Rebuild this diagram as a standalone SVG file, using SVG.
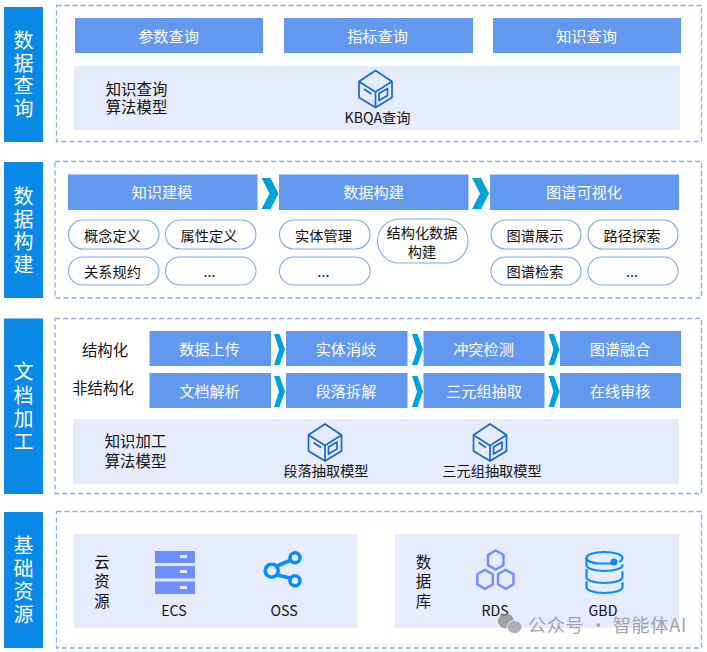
<svg xmlns="http://www.w3.org/2000/svg" width="707" height="652" viewBox="0 0 707 652">
<style>
text{font-family:"Noto Sans CJK SC","Microsoft YaHei",sans-serif;text-anchor:middle;dominant-baseline:central}
.side{fill:#0a8ae6}
.sidet{fill:#fff;font-size:20px}
.dash{fill:#fff;stroke:#86aef0;stroke-width:1.3;stroke-dasharray:5 3}
.btn{fill:#6299ef}
.btnt{fill:#fff;font-size:15.2px}
.panel{fill:#e6ebfd}
.lab{fill:#111;font-size:15.4px}
.small{fill:#111;font-size:14.2px}
.pill{fill:#fff;stroke:#7ea8f0;stroke-width:1.1}
.chev{fill:#00a3d9}
.ln{fill:none;stroke:#1469cc;stroke-width:1.7;stroke-linejoin:round}
.hex{fill:none;stroke:#6f8fff;stroke-width:2.4}
.oss{fill:none;stroke:#0a8cf5;stroke-width:3.6}
.gbd{fill:none;stroke:#0a8cf5;stroke-width:2.2;stroke-linecap:round}
</style>
<defs>
<symbol id="cube" viewBox="0 0 34 38" overflow="visible">
<path class="ln" d="M17 0.5L33.5 11.500V27.500L17 37.500L0.5 27.500V11.500Z"/>
<path class="ln" d="M0.5 11.500L17 22L33.500 11.500M17 22V37.500"/>
<path class="ln" d="M5.500 19L13 24"/>
<path class="ln" d="M20.500 23.500L29 18.500V25.500L20.500 30.500Z"/>
</symbol>
<path id="chevL" class="chev" d="M0 0H9L17 15.500L9 31H0L8 15.500Z"/>
<path id="chevS" class="chev" d="M0 0H5.500L11 15.500L5.500 31H0L5 15.500Z"/>
</defs>

<g id="layer-query">
<rect class="side" x="4" y="7" width="39" height="135"/>
<text class="sidet"><tspan x="23.500" y="38.500">数</tspan><tspan x="23.500" y="61.500">据</tspan><tspan x="23.500" y="84">查</tspan><tspan x="23.500" y="106.500">询</tspan></text>
<rect class="dash" x="56.500" y="5.500" width="645" height="136"/>
</g>
<g id="btn-param"><rect class="btn" x="75" y="18" width="188" height="35"/><text class="btnt" x="168.500" y="34.500">参数查询</text></g>
<g id="btn-metric"><rect class="btn" x="284" y="18" width="189" height="35"/><text class="btnt" x="377.500" y="34.500">指标查询</text></g>
<g id="btn-knowledge"><rect class="btn" x="493" y="18" width="188" height="35"/><text class="btnt" x="586.500" y="34.500">知识查询</text></g>
<g id="panel-kbqa">
<rect class="panel" x="74" y="66" width="606" height="64"/>
<text class="lab" x="136.500" y="87.500">知识查询</text>
<text class="lab" x="136.500" y="105.500">算法模型</text>
<use href="#cube" x="358.500" y="70" width="34" height="38"/>
<text class="small" x="377.500" y="117">KBQA查询</text>
</g>

<g id="layer-build">
<rect class="side" x="4" y="162" width="39" height="136"/>
<text class="sidet"><tspan x="23.500" y="195">数</tspan><tspan x="23.500" y="218">据</tspan><tspan x="23.500" y="240">构</tspan><tspan x="23.500" y="263">建</tspan></text>
<rect class="dash" x="55" y="161.500" width="646.500" height="136.500"/>
</g>
<g id="head-model"><rect class="btn" x="68" y="174.500" width="189.500" height="35.500"/><text class="btnt" x="162" y="191">知识建模</text></g>
<g id="head-data"><rect class="btn" x="279" y="174.500" width="189.500" height="35.500"/><text class="btnt" x="373.500" y="191">数据构建</text></g>
<g id="head-vis"><rect class="btn" x="490" y="174.500" width="189" height="35.500"/><text class="btnt" x="584" y="191">图谱可视化</text></g>
<g id="p1"><rect class="pill" x="68.500" y="220" width="90.500" height="29" rx="14.500"/><text class="small" x="112.500" y="235">概念定义</text></g>
<g id="p2"><rect class="pill" x="165.500" y="220" width="90.500" height="29" rx="14.500"/><text class="small" x="209" y="235">属性定义</text></g>
<g id="p3"><rect class="pill" x="68.500" y="257" width="90.500" height="28" rx="14"/><text class="small" x="112.500" y="271">关系规约</text></g>
<g id="p4"><rect class="pill" x="165.500" y="257" width="90.500" height="28" rx="14"/><text class="small" x="209.500" y="271">...</text></g>
<g id="p5"><rect class="pill" x="279.500" y="220" width="90.500" height="29" rx="14.500"/><text class="small" x="323.500" y="235">实体管理</text></g>
<g id="p6"><rect class="pill" x="377.500" y="219" width="90.500" height="44" rx="22"/><text class="small" x="422" y="231.500">结构化数据</text><text class="small" x="422" y="250.500">构建</text></g>
<g id="p7"><rect class="pill" x="279.500" y="257" width="90.500" height="28" rx="14"/><text class="small" x="323.500" y="271">...</text></g>
<g id="p8"><rect class="pill" x="491" y="220" width="90" height="29" rx="14.500"/><text class="small" x="535" y="235">图谱展示</text></g>
<g id="p9"><rect class="pill" x="588" y="220" width="90" height="29" rx="14.500"/><text class="small" x="632" y="235">路径探索</text></g>
<g id="p10"><rect class="pill" x="491" y="257" width="90" height="28" rx="14"/><text class="small" x="535" y="271">图谱检索</text></g>
<g id="p11"><rect class="pill" x="588" y="257" width="90" height="28" rx="14"/><text class="small" x="632" y="271">...</text></g>

<g id="layer-doc">
<rect class="side" x="4" y="318.500" width="39" height="175.500"/>
<text class="sidet"><tspan x="23.500" y="369.500">文</tspan><tspan x="23.500" y="393.500">档</tspan><tspan x="23.500" y="417">加</tspan><tspan x="23.500" y="440">工</tspan></text>
<rect class="dash" x="55" y="318.500" width="646.500" height="175"/>
</g>
<g id="label-struct"><text class="lab" x="105" y="349">结构化</text></g>
<g id="label-unstruct"><text class="lab" x="103" y="387">非结构化</text></g>
<g id="s1"><rect class="btn" x="149.500" y="331" width="121.500" height="35"/><text class="btnt" x="209.500" y="347.500">数据上传</text></g>
<g id="s2"><rect class="btn" x="286" y="331" width="121.500" height="35"/><text class="btnt" x="346" y="347.500">实体消歧</text></g>
<g id="s3"><rect class="btn" x="423.500" y="331" width="121" height="35"/><text class="btnt" x="483.500" y="347.500">冲突检测</text></g>
<g id="s4"><rect class="btn" x="560" y="331" width="121" height="35"/><text class="btnt" x="620" y="347.500">图谱融合</text></g>
<g id="u1"><rect class="btn" x="149.500" y="373" width="121.500" height="35"/><text class="btnt" x="209.500" y="389.500">文档解析</text></g>
<g id="u2"><rect class="btn" x="286" y="373" width="121.500" height="35"/><text class="btnt" x="346" y="389.500">段落拆解</text></g>
<g id="u3"><rect class="btn" x="423.500" y="373" width="121" height="35"/><text class="btnt" x="484" y="389.500">三元组抽取</text></g>
<g id="u4"><rect class="btn" x="560" y="373" width="121" height="35"/><text class="btnt" x="620" y="389.500">在线审核</text></g>
<g id="panel-doc-model">
<rect class="panel" x="73" y="419" width="606" height="65"/>
<text class="lab" x="135.500" y="440">知识加工</text>
<text class="lab" x="135.500" y="460">算法模型</text>
<use href="#cube" x="308" y="423.500" width="34" height="38"/>
<use href="#cube" x="473" y="423.500" width="34" height="38"/>
<text class="small" x="326" y="470">段落抽取模型</text>
<text class="small" x="492" y="470">三元组抽取模型</text>
</g>

<g id="layer-base">
<rect class="side" x="4" y="512" width="39" height="136"/>
<text class="sidet"><tspan x="23.500" y="543.500">基</tspan><tspan x="23.500" y="567">础</tspan><tspan x="23.500" y="590">资</tspan><tspan x="23.500" y="613">源</tspan></text>
<rect class="dash" x="56.500" y="511.500" width="645" height="136.500"/>
</g>
<g id="panel-cloud">
<rect class="panel" x="73.500" y="534" width="284" height="94"/>
<text class="lab"><tspan x="102" y="561">云</tspan><tspan x="102" y="580">资</tspan><tspan x="102" y="599.500">源</tspan></text>
</g>
<g id="node-ecs">
<g fill="#6f8fff"><rect x="155" y="551" width="40" height="12"/><rect x="155" y="566" width="40" height="12.500"/><rect x="155" y="581.500" width="40" height="12.500"/></g>
<g fill="#e6ebfd"><rect x="180" y="555" width="7" height="3"/><rect x="180" y="570" width="7" height="3"/><rect x="180" y="586" width="7" height="3"/></g>
<text class="small" x="174" y="610">ECS</text>
</g>
<g id="node-oss">
<path class="oss" d="M277 566L290 560.500M277 575L290 578"/>
<circle class="oss" cx="271.700" cy="570.700" r="6.500"/>
<circle class="oss" cx="295" cy="557.700" r="5"/>
<circle class="oss" cx="295" cy="580.700" r="5"/>
<text class="small" x="284" y="610">OSS</text>
</g>
<g id="panel-db">
<rect class="panel" x="395" y="534" width="284" height="94"/>
<text class="lab"><tspan x="423.500" y="561">数</tspan><tspan x="423.500" y="580">据</tspan><tspan x="423.500" y="600">库</tspan></text>
</g>
<g id="node-rds">
<path class="hex" d="M495.700 550.500L503.500 555V565L495.700 569.500L488 565V555Z"/>
<path class="hex" d="M485 569.800L492.800 574.300V584.300L485 588.800L477.300 584.300V574.300Z"/>
<path class="hex" d="M505.700 569.800L513.500 574.300V584.300L505.700 588.800L498 584.300V574.300Z"/>
<text class="small" x="495" y="610">RDS</text>
</g>
<g id="node-gbd">
<path class="gbd" d="M611 563.500H600C592 563.500 586.500 561 586.500 558C586.500 554.500 594 552 604.500 552C615 552 622.500 554.500 622.500 558C622.500 559.500 621.500 560.500 620 561.500"/>
<path class="gbd" d="M586.500 558V565C586.500 568.500 594 571 604.500 571C615 571 622.500 568.500 622.500 565"/>
<path class="gbd" d="M586.500 570V577C586.500 580.500 594 583 604.500 583C615 583 622.500 580.500 622.500 577V572"/>
<path class="gbd" d="M586.500 582V587C586.500 590.500 594 593 604.500 593C615 593 622.500 590.500 622.500 587V583"/>
<circle cx="614" cy="562" r="3.600" fill="#0a8cf5"/>
<text class="small" x="603" y="610">GBD</text>
</g>

<g id="connectors">
<use href="#chevL" x="261.500" y="178"/>
<use href="#chevL" x="472" y="178"/>
<use href="#chevS" x="274" y="334"/>
<use href="#chevS" x="412" y="334"/>
<use href="#chevS" x="548.500" y="334"/>
<use href="#chevS" x="274" y="376"/>
<use href="#chevS" x="412" y="376"/>
<use href="#chevS" x="548.500" y="376"/>
</g>

<g id="watermark" opacity="0.8">
<ellipse cx="506" cy="621" rx="8" ry="7.500" fill="#8f8f8f"/>
<ellipse cx="514.500" cy="627" rx="7.500" ry="6.500" fill="#9f9f9f" stroke="#fff" stroke-width="0.800"/>
<text x="607.500" y="623.500" style="font-size:18px;letter-spacing:0.800px;fill:#8f8f8f">公众号 · 智能体AI</text>
</g>
</svg>
